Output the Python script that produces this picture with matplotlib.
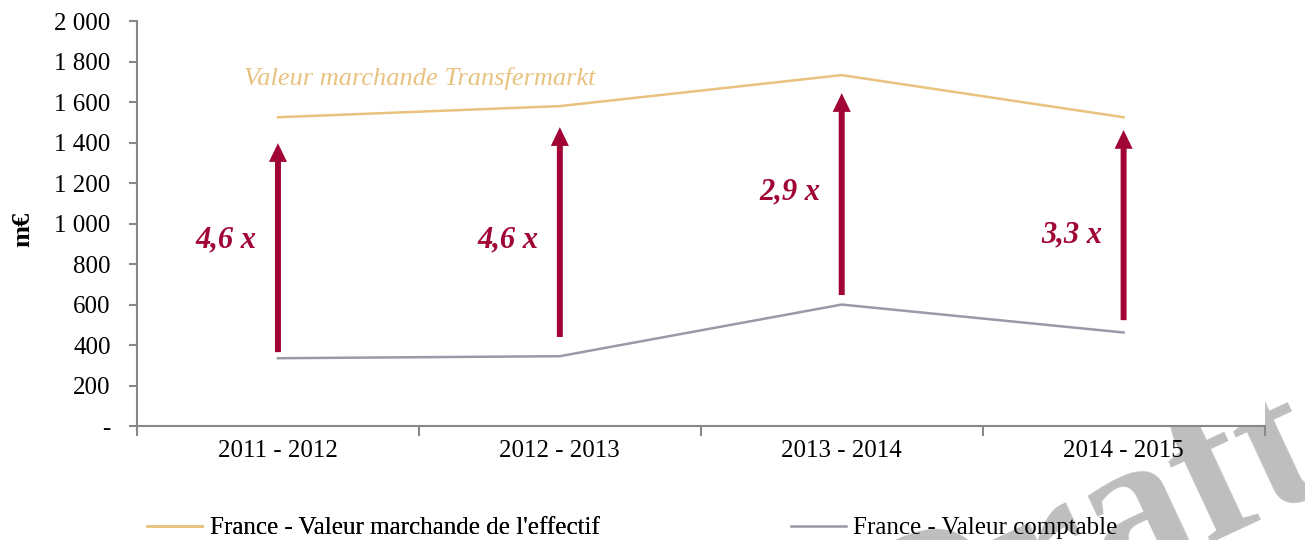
import matplotlib.pyplot as plt
from matplotlib.ticker import FuncFormatter, FixedLocator

# données (m€)
saisons = ['2011 - 2012', '2012 - 2013', '2013 - 2014', '2014 - 2015']
valeur_marchande = [1525, 1580, 1733, 1525]
valeur_comptable = [335, 345, 600, 462]
fleche_bas = [365, 440, 647, 523]
fleche_haut = [1397, 1476, 1644, 1462]
multiples = ['4,6 x', '4,6 x', '2,9 x', '3,3 x']
multiples_y = [918, 918, 1156, 943]

ORANGE = '#E8C27E'
GRIS = '#9C98A8'
ROUGE = '#A00535'
AXE = '#888888'

plt.rcParams['font.family'] = ['Liberation Serif', 'DejaVu Serif']

fig = plt.figure(figsize=(13.05, 5.4), dpi=100)
ax = fig.add_axes([0.105, 0.211, 0.864, 0.75])

x = list(range(len(saisons)))
l1, = ax.plot(x, valeur_marchande, color=ORANGE, lw=1.8)
l2, = ax.plot(x, valeur_comptable, color=GRIS, lw=1.8)

for i in x:
    ax.annotate('', xy=(i, fleche_haut[i]), xytext=(i, fleche_bas[i]),
                arrowprops=dict(width=4.3, headwidth=13, headlength=13.5,
                                facecolor=ROUGE, edgecolor=ROUGE, lw=0,
                                shrink=0))
    ax.text(i - 0.075, multiples_y[i], multiples[i], color=ROUGE, fontsize=22,
            fontweight='bold', fontstyle='italic', ha='right', va='center')

ax.text(-0.12, 1718, 'Valeur marchande Transfermarkt', color=ORANGE,
        fontsize=19, fontstyle='italic', ha='left', va='center')

ax.set_xlim(-0.5, 3.5)
ax.set_ylim(0, 2000)
ax.set_yticks(range(0, 2001, 200))
ax.yaxis.set_major_formatter(FuncFormatter(
    lambda v, p: '-' if v == 0 else f'{int(v):,}'.replace(',', ' ')))
ax.set_xticks(x)
ax.set_xticklabels(saisons)
ax.xaxis.set_minor_locator(FixedLocator([-0.5, 0.5, 1.5, 2.5, 3.5]))
ax.tick_params(axis='x', which='major', length=0, pad=10, labelsize=18)
ax.tick_params(axis='x', which='minor', length=7, width=1.5, color=AXE)
ax.tick_params(axis='y', length=6, width=1.5, color=AXE, labelsize=18, pad=13)

for s in ['top', 'right']:
    ax.spines[s].set_visible(False)
for s in ['left', 'bottom']:
    ax.spines[s].set_color(AXE)
    ax.spines[s].set_linewidth(1.5)

ax.set_ylabel('m€', fontsize=19, fontweight='bold')
ax.yaxis.set_label_coords(-0.091, 0.485)

# légende
leg1 = fig.legend([l1], ["France - Valeur marchande de l'effectif"],
                  loc='center left', bbox_to_anchor=(0.113, 0.022), frameon=False,
                  fontsize=18, handlelength=2.2, handletextpad=0.3,
                  borderaxespad=0, borderpad=0)
fig.add_artist(leg1)
fig.legend([l2], ['France - Valeur comptable'],
           loc='center left', bbox_to_anchor=(0.606, 0.022), frameon=False,
           fontsize=18, handlelength=2.2, handletextpad=0.3,
           borderaxespad=0, borderpad=0)

# filigrane
fig.text(0.836, -0.005, 'Draft', fontsize=150, color='#BEBEBE', rotation=25,
         fontweight='bold', ha='center', va='center', zorder=-1)

fig.savefig('out.png', dpi=100)
